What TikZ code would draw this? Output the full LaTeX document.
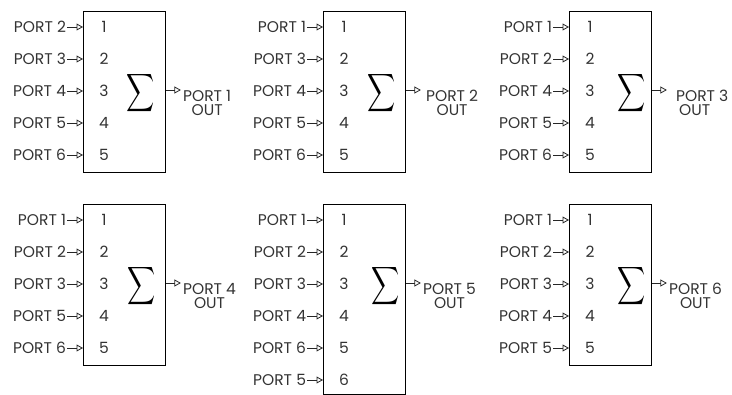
\documentclass[tikz,border=0pt]{standalone}
\usepackage{amsmath}
\usepackage{fontspec}
\setmainfont{Poppins}
\usetikzlibrary{arrows.meta,calc,positioning}

\begin{document}
\begin{tikzpicture}[x=1pt,y=-1pt,>={Triangle[open,length=6.5pt,width=7pt,line width=0.8pt]},
    sumbox/.style={draw,line width=0.9pt,minimum width=82pt,anchor=north west,inner sep=0pt},
    port/.style={anchor=east,inner sep=0.8pt,text=black!80,font=\fontsize{15.5}{12.5}\selectfont},
    num/.style={inner sep=0pt,text=black!80,font=\fontsize{15.5}{12.5}\selectfont},
    outlbl/.style={anchor=north west,inner sep=0pt,align=center,text=black!80,font=\fontsize{15.5}{14}\selectfont},
    sigma/.style={inner sep=0pt,font=\fontsize{10}{10}\selectfont},
    feed/.style={->,line width=0.8pt,black!85}]
    \useasboundingbox (0,0) rectangle (732,395);

    % top row
    \node[sumbox,minimum height=161pt] (b1) at (83,11) {};
    \foreach \p [count=\i] in {2,3,4,5,6} {
        \node[num] (b1n\i) at ($(b1.north west)+(21,{16+32*(\i-1)})$) {\i};
        \node[port] (b1p\i) at ($(b1.west |- b1n\i)+(-16,0)$) {PORT \p};
        \draw[feed] (b1p\i.east) -- (b1.west |- b1p\i.east);
    }
    \node[sigma] (b1s) at ($(b1.west |- b1n3)+(58,2)$) {\scalebox{1.95}[2.65]{$\displaystyle\sum$}};
    \coordinate (b1o) at ($(b1.east |- b1n3)+(15,-1)$);
    \draw[feed] (b1.east |- b1o) -- (b1o);
    \node[outlbl] (b1out) at ($(b1o)+(2,0)$) {PORT 1\\OUT};

    \node[sumbox,minimum height=161pt] (b2) at (323,11) {};
    \foreach \p [count=\i] in {1,3,4,5,6} {
        \node[num] (b2n\i) at ($(b2.north west)+(21,{16+32*(\i-1)})$) {\i};
        \node[port] (b2p\i) at ($(b2.west |- b2n\i)+(-16,0)$) {PORT \p};
        \draw[feed] (b2p\i.east) -- (b2.west |- b2p\i.east);
    }
    \node[sigma] (b2s) at ($(b2.west |- b2n3)+(59,2)$) {\scalebox{1.95}[2.65]{$\displaystyle\sum$}};
    \coordinate (b2o) at ($(b2.east |- b2n3)+(15,-1)$);
    \draw[feed] (b2.east |- b2o) -- (b2o);
    \node[outlbl] (b2out) at ($(b2o)+(5,0)$) {PORT 2\\OUT};

    \node[sumbox,minimum height=161pt] (b3) at (569,11) {};
    \foreach \p [count=\i] in {1,2,4,5,6} {
        \node[num] (b3n\i) at ($(b3.north west)+(21,{16+32*(\i-1)})$) {\i};
        \node[port] (b3p\i) at ($(b3.west |- b3n\i)+(-16,0)$) {PORT \p};
        \draw[feed] (b3p\i.east) -- (b3.west |- b3p\i.east);
    }
    \node[sigma] (b3s) at ($(b3.west |- b3n3)+(63,2)$) {\scalebox{1.95}[2.65]{$\displaystyle\sum$}};
    \coordinate (b3o) at ($(b3.east |- b3n3)+(15,-1)$);
    \draw[feed] (b3.east |- b3o) -- (b3o);
    \node[outlbl,align=left] (b3out) at ($(b3o)+(9,0)$) {PORT 3\\\hspace*{3pt}OUT};

    % bottom row
    \node[sumbox,minimum height=161pt] (b4) at (83,204) {};
    \foreach \p [count=\i] in {1,2,3,5,6} {
        \node[num] (b4n\i) at ($(b4.north west)+(21,{16+32*(\i-1)})$) {\i};
        \node[port] (b4p\i) at ($(b4.west |- b4n\i)+(-16,0)$) {PORT \p};
        \draw[feed] (b4p\i.east) -- (b4.west |- b4p\i.east);
    }
    \node[sigma] (b4s) at ($(b4.west |- b4n3)+(59,2)$) {\scalebox{1.95}[2.65]{$\displaystyle\sum$}};
    \coordinate (b4o) at ($(b4.east |- b4n3)+(15,-1)$);
    \draw[feed] (b4.east |- b4o) -- (b4o);
    \node[outlbl] (b4out) at ($(b4o)+(2,0)$) {PORT 4\\OUT};

    \node[sumbox,minimum height=190pt] (b5) at (323,204) {};
    \foreach \p [count=\i] in {1,2,3,4,6,5} {
        \node[num] (b5n\i) at ($(b5.north west)+(21,{16+32*(\i-1)})$) {\i};
        \node[port] (b5p\i) at ($(b5.west |- b5n\i)+(-16,0)$) {PORT \p};
        \draw[feed] (b5p\i.east) -- (b5.west |- b5p\i.east);
    }
    \node[sigma] (b5s) at ($(b5.west |- b5n3)+(63,2)$) {\scalebox{1.95}[2.65]{$\displaystyle\sum$}};
    \coordinate (b5o) at ($(b5.east |- b5n3)+(15,-1)$);
    \draw[feed] (b5.east |- b5o) -- (b5o);
    \node[outlbl] (b5out) at ($(b5o)+(2,0)$) {PORT 5\\OUT};

    \node[sumbox,minimum height=161pt] (b6) at (569,204) {};
    \foreach \p [count=\i] in {1,2,3,4,5} {
        \node[num] (b6n\i) at ($(b6.north west)+(21,{16+32*(\i-1)})$) {\i};
        \node[port] (b6p\i) at ($(b6.west |- b6n\i)+(-16,0)$) {PORT \p};
        \draw[feed] (b6p\i.east) -- (b6.west |- b6p\i.east);
    }
    \node[sigma] (b6s) at ($(b6.west |- b6n3)+(63,2)$) {\scalebox{1.95}[2.65]{$\displaystyle\sum$}};
    \coordinate (b6o) at ($(b6.east |- b6n3)+(15,-1)$);
    \draw[feed] (b6.east |- b6o) -- (b6o);
    \node[outlbl] (b6out) at ($(b6o)+(2,0)$) {PORT 6\\OUT};
\end{tikzpicture}
\end{document}
